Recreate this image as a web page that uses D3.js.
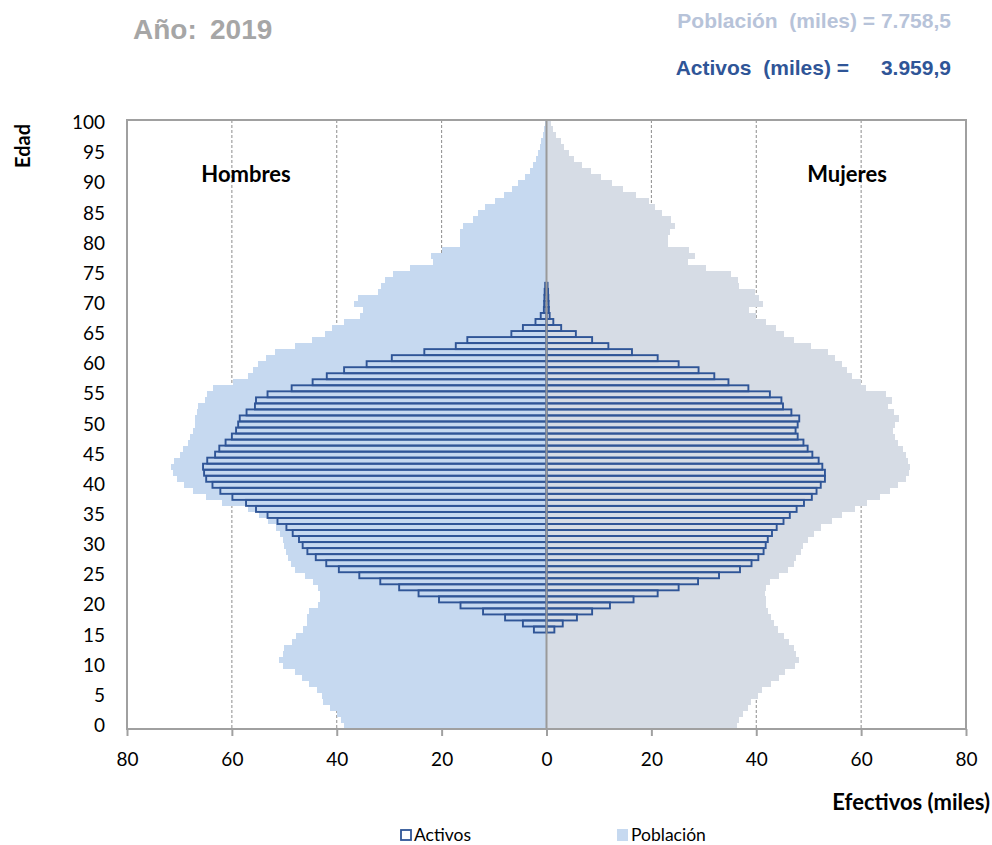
<!DOCTYPE html>
<html>
<head>
<meta charset="utf-8">
<script src="https://d3js.org/d3.v7.min.js"></script>
<style>
  body { margin: 0; background: #fff; }
  svg { display: block; }
  text { white-space: pre; }
</style>
</head>
<body>
<div id="chart"></div>
<script>
// Ages 0..100 (categories on the vertical axis)
var ages = d3.range(0, 101);

// Population (miles) by age 0..100
var menPop = [38.7, 39.1, 40.0, 41.3, 42.6, 42.9, 43.8, 45.3, 46.7, 48.0,
  50.2, 51.0, 50.3, 50.0, 48.6, 47.7, 46.4, 45.7, 45.6, 45.2,
  43.6, 43.2, 43.2, 43.6, 44.6, 46.1, 48.0, 48.8, 49.3, 49.7,
  50.0, 50.3, 50.9, 51.6, 53.1, 54.8, 57.0, 61.9, 64.9, 67.5,
  69.1, 70.4, 71.3, 71.7, 71.0, 69.9, 69.3, 68.4, 67.9, 67.4,
  67.0, 67.0, 66.7, 66.4, 65.1, 64.8, 63.6, 59.8, 56.9, 56.0,
  55.0, 53.4, 51.8, 47.9, 44.7, 42.3, 41.0, 38.7, 35.5, 35.0,
  36.8, 36.0, 32.1, 31.5, 30.8, 29.3, 26.1, 21.7, 22.0, 20.0,
  16.5, 16.5, 16.5, 15.9, 14.0, 13.0, 11.7, 9.8, 8.2, 6.6,
  5.4, 4.1, 3.2, 2.5, 2.0, 1.6, 1.3, 1.0, 0.7, 0.5, 0.3];

var womenPop = [36.3, 36.8, 37.4, 38.4, 39.0, 40.3, 41.1, 42.9, 44.3, 45.5,
  47.4, 48.1, 47.6, 47.2, 46.2, 45.3, 44.1, 43.4, 42.9, 42.3,
  41.9, 41.8, 41.7, 41.8, 42.6, 44.3, 46.0, 47.2, 47.6, 48.5,
  48.9, 49.8, 51.0, 52.3, 54.4, 56.3, 58.8, 61.2, 63.6, 65.5,
  67.1, 68.6, 69.1, 69.3, 69.0, 68.5, 67.9, 67.1, 66.5, 66.1,
  66.5, 67.2, 66.3, 65.2, 65.8, 64.7, 60.9, 59.9, 58.3, 57.4,
  56.4, 55.0, 53.6, 50.4, 47.2, 45.3, 43.7, 41.8, 40.0, 38.7,
  41.2, 40.6, 39.8, 36.7, 36.6, 35.2, 30.4, 27.0, 28.4, 27.2,
  23.1, 23.1, 23.6, 24.6, 23.7, 22.0, 20.6, 19.5, 17.1, 14.5,
  12.5, 10.4, 8.5, 6.8, 5.3, 4.2, 3.4, 2.7, 1.8, 1.2, 0.9];

// Activos (miles) by age 16..73
var actAges = d3.range(16, 74);

var menAct = [2.4, 4.5, 7.9, 12.1,
  16.4, 20.5, 24.4, 28.1, 31.7, 35.7, 39.6, 42.0, 44.0, 45.6,
  46.5, 47.2, 48.4, 49.6, 51.3, 53.2, 55.4, 57.3, 59.9, 62.2,
  63.7, 64.9, 65.3, 65.5, 64.7, 63.2, 62.4, 61.2, 60.0, 59.2,
  58.8, 58.5, 57.2, 55.6, 55.4, 53.2, 48.6, 44.6, 41.9, 38.6,
  34.3, 29.5, 23.3, 17.3, 15.1, 6.7, 4.5, 2.1, 1.1, 0.5,
  0.45, 0.4, 0.35, 0.25];

var womenAct = [1.5, 3.1, 5.8, 8.7,
  12.1, 16.6, 21.2, 25.2, 28.9, 32.9, 36.9, 39.1, 40.4, 41.4,
  41.8, 42.2, 43.0, 43.9, 45.2, 46.4, 47.7, 49.1, 50.6, 51.5,
  52.3, 53.1, 53.1, 52.6, 51.9, 50.7, 49.8, 49.0, 47.9, 47.5,
  47.9, 48.2, 46.7, 45.1, 44.8, 42.6, 38.5, 34.7, 32.0, 29.0,
  25.2, 21.2, 16.3, 11.8, 8.7, 5.6, 2.8, 1.3, 0.6, 0.45,
  0.4, 0.35, 0.3, 0.2];

// tick labels
var xTicks = [-80, -60, -40, -20, 0, 20, 40, 60, 80];
var gridTicks = [-60, -40, -20, 20, 40, 60];
var yTicks = d3.range(0, 101, 5);

var svgWidth = 992;
var svgHeight = 845;

var plot = { left: 127, right: 966, top: 120, bottom: 729 };

var calibri = "Lato, 'Open Sans', sans-serif";
var arial = "'Liberation Sans', Arial, sans-serif";

var colMen = "#C6D9F0";
var colWomen = "#D6DCE5";
var colAct = "#2F5597";

var svg = d3.select("#chart")
  .append("svg")
  .attr("width", svgWidth)
  .attr("height", svgHeight);

// scales: men to the left (negative), women to the right
var x = d3.scaleLinear()
  .domain([-80, 80])
  .range([plot.left, plot.right]);

var y = d3.scaleBand()
  .domain(ages.slice().reverse())
  .range([plot.top, plot.bottom])
  .padding(0);

// dashed vertical gridlines (behind bars)
svg.append("g")
  .selectAll("line")
  .data(gridTicks)
  .enter()
  .append("line")
  .attr("x1", d => x(d))
  .attr("x2", d => x(d))
  .attr("y1", plot.top)
  .attr("y2", plot.bottom)
  .attr("stroke", "#8c8c8c")
  .attr("stroke-width", 1)
  .attr("stroke-dasharray", "3,2");

// population bars
var popGroup = svg.append("g")
  .attr("shape-rendering", "crispEdges");

popGroup.selectAll("rect.men")
  .data(ages)
  .enter()
  .append("rect")
  .attr("class", "men")
  .attr("x", d => x(-menPop[d]))
  .attr("y", d => y(d))
  .attr("width", d => x(0) - x(-menPop[d]))
  .attr("height", y.bandwidth() + 0.5)
  .attr("fill", colMen);

popGroup.selectAll("rect.women")
  .data(ages)
  .enter()
  .append("rect")
  .attr("class", "women")
  .attr("x", x(0))
  .attr("y", d => y(d))
  .attr("width", d => x(womenPop[d]) - x(0))
  .attr("height", y.bandwidth() + 0.5)
  .attr("fill", colWomen);

// activos: outlined bars
var actGroup = svg.append("g")
  .attr("fill", "none")
  .attr("stroke", colAct)
  .attr("stroke-width", 1.9);

actGroup.selectAll("rect.men")
  .data(actAges)
  .enter()
  .append("rect")
  .attr("class", "men")
  .attr("x", (d, i) => x(-menAct[i]))
  .attr("y", d => y(d))
  .attr("width", (d, i) => x(0) - x(-menAct[i]))
  .attr("height", y.bandwidth());

actGroup.selectAll("rect.women")
  .data(actAges)
  .enter()
  .append("rect")
  .attr("class", "women")
  .attr("x", x(0))
  .attr("y", d => y(d))
  .attr("width", (d, i) => x(womenAct[i]) - x(0))
  .attr("height", y.bandwidth());

// center axis line
svg.append("line")
  .attr("x1", x(0))
  .attr("x2", x(0))
  .attr("y1", plot.top)
  .attr("y2", plot.bottom)
  .attr("stroke", "#9a9a9a")
  .attr("stroke-width", 2);

// plot border
svg.append("rect")
  .attr("x", plot.left)
  .attr("y", plot.top)
  .attr("width", plot.right - plot.left)
  .attr("height", plot.bottom - plot.top)
  .attr("fill", "none")
  .attr("stroke", "#a0a0a0")
  .attr("stroke-width", 2);

// x axis
var xAxis = d3.axisBottom(x)
  .tickValues(xTicks)
  .tickFormat(d => Math.abs(d))
  .tickSize(7)
  .tickPadding(17);

var xg = svg.append("g")
  .attr("transform", `translate(0,${plot.bottom})`)
  .call(xAxis);
xg.select(".domain").remove();
xg.selectAll(".tick line").attr("stroke", "#a0a0a0").attr("stroke-width", 2);
xg.selectAll("text")
  .attr("font-family", calibri)
  .attr("font-size", 19)
  .attr("fill", "#000");

// y axis
var yAxis = d3.axisLeft(y)
  .tickValues(yTicks)
  .tickSize(0)
  .tickPadding(22);

var yg = svg.append("g")
  .attr("transform", `translate(${plot.left},0)`)
  .call(yAxis);
yg.select(".domain").remove();
yg.selectAll("text")
  .attr("font-family", calibri)
  .attr("font-size", 19)
  .attr("fill", "#000");

// axis titles
svg.append("text")
  .attr("transform", "translate(30,146) rotate(-90)")
  .attr("text-anchor", "middle")
  .attr("font-family", calibri)
  .attr("font-weight", "bold")
  .attr("font-size", 20)
  .text("Edad");

svg.append("text")
  .attr("x", 990)
  .attr("y", 810)
  .attr("text-anchor", "end")
  .attr("font-family", calibri)
  .attr("font-weight", "bold")
  .attr("font-size", 22)
  .text("Efectivos (miles)");

// sex labels
svg.append("text")
  .attr("x", 246)
  .attr("y", 182)
  .attr("text-anchor", "middle")
  .attr("font-family", calibri)
  .attr("font-weight", "bold")
  .attr("font-size", 22)
  .text("Hombres");

svg.append("text")
  .attr("x", 847)
  .attr("y", 182)
  .attr("text-anchor", "middle")
  .attr("font-family", calibri)
  .attr("font-weight", "bold")
  .attr("font-size", 22)
  .text("Mujeres");

// header
svg.append("text")
  .attr("x", 133)
  .attr("y", 39)
  .attr("font-family", arial)
  .attr("font-weight", "bold")
  .attr("font-size", 28)
  .attr("fill", "#A6A6A6")
  .text("Año:");

svg.append("text")
  .attr("x", 210)
  .attr("y", 39)
  .attr("font-family", arial)
  .attr("font-weight", "bold")
  .attr("font-size", 28)
  .attr("fill", "#A6A6A6")
  .text("2019");

svg.append("text")
  .attr("x", 951)
  .attr("y", 28)
  .attr("text-anchor", "end")
  .attr("font-family", arial)
  .attr("font-weight", "bold")
  .attr("font-size", 21)
  .attr("fill", "#B7C3D9")
  .text("Población  (miles) = 7.758,5");

svg.append("text")
  .attr("x", 849)
  .attr("y", 75)
  .attr("text-anchor", "end")
  .attr("font-family", arial)
  .attr("font-weight", "bold")
  .attr("font-size", 21)
  .attr("fill", colAct)
  .text("Activos  (miles) =");

svg.append("text")
  .attr("x", 951)
  .attr("y", 75)
  .attr("text-anchor", "end")
  .attr("font-family", arial)
  .attr("font-weight", "bold")
  .attr("font-size", 21)
  .attr("fill", colAct)
  .text("3.959,9");

// legend
var legend = svg.append("g");
legend.append("rect")
  .attr("x", 401)
  .attr("y", 830)
  .attr("width", 10)
  .attr("height", 10)
  .attr("fill", "#fff")
  .attr("stroke", colAct)
  .attr("stroke-width", 1.8);
legend.append("text")
  .attr("x", 414)
  .attr("y", 841)
  .attr("font-family", calibri)
  .attr("font-size", 17.5)
  .text("Activos");

legend.append("rect")
  .attr("x", 617)
  .attr("y", 829)
  .attr("width", 11)
  .attr("height", 12)
  .attr("fill", colMen);
legend.append("text")
  .attr("x", 631)
  .attr("y", 841)
  .attr("font-family", calibri)
  .attr("font-size", 17.5)
  .text("Población");
</script>
</body>
</html>
